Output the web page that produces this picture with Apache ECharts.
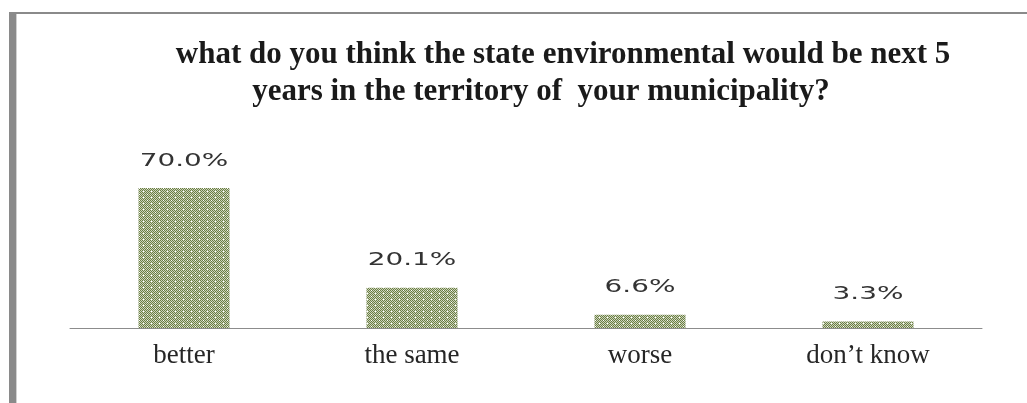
<!DOCTYPE html>
<html>
<head>
<meta charset="utf-8">
<script src="https://cdn.jsdelivr.net/npm/echarts@6/dist/echarts.min.js"></script>
<style>
  html, body { margin: 0; padding: 0; background: #fff; }
  #chart { width: 1027px; height: 403px; }
</style>
</head>
<body>
<div id="chart"></div>
<script>
// Survey answers and their shares (percent)
const titleLines = [
  'what do you think the state environmental would be next 5',
  'years in the territory of  your municipality?'
];
const categories = ['better', 'the same', 'worse', 'don\u2019t know'];
const shares = [70.0, 20.1, 6.6, 3.3];

// Woven olive fill used on the bars
function makeWeave() {
  const c = document.createElement('canvas');
  c.width = 8; c.height = 6;
  const g = c.getContext('2d');
  for (let y = 0; y < 6; y++) {
    for (let x = 0; x < 8; x++) {
      g.fillStyle = (x + y) % 2 === 0 ? '#6a7d44' : '#cdd5bc';
      g.fillRect(x, y, 1, 1);
    }
  }
  g.fillStyle = '#ffffff';
  g.fillRect(3, 2, 1, 1);
  g.fillRect(7, 5, 1, 1);
  return c;
}

const titleFont = {
  fontFamily: 'Liberation Serif',
  fontWeight: 'bold',
  fontSize: 31,
  color: '#1a1a1a'
};

const chart = echarts.init(document.getElementById('chart'), null, { renderer: 'canvas' });

chart.setOption({
  animation: false,
  backgroundColor: '#ffffff',
  title: [
    { text: titleLines[0], left: 558, top: 34, textAlign: 'center', textStyle: titleFont },
    { text: titleLines[1], left: 536, top: 71, textAlign: 'center', textStyle: titleFont }
  ],
  graphic: [
    // frame: thick left edge and thin top edge
    { type: 'rect', shape: { x: 9, y: 12, width: 7, height: 391 }, style: { fill: '#8a8a8a' } },
    { type: 'rect', shape: { x: 16, y: 14, width: 1, height: 389 }, style: { fill: '#d0d0d0' } },
    { type: 'rect', shape: { x: 9, y: 12, width: 1018, height: 2 }, style: { fill: '#8a8a8a' } }
  ],
  grid: { left: 70, right: 45, top: 168, height: 160 },
  xAxis: {
    type: 'category',
    data: categories,
    axisLine: { show: true, lineStyle: { color: '#8c8c8c', width: 1 } },
    axisTick: { show: false },
    axisLabel: {
      margin: 14,
      fontFamily: 'Liberation Serif',
      fontSize: 27,
      color: '#262626'
    }
  },
  yAxis: {
    type: 'value',
    min: 0,
    max: 80,
    show: false,
    splitLine: { show: false }
  },
  series: [
    {
      type: 'bar',
      data: shares,
      barWidth: 91,
      itemStyle: { color: { image: makeWeave(), repeat: 'repeat' } }
    },
    {
      // value labels above each bar, drawn wide
      type: 'custom',
      data: shares.map((v, i) => [i, v]),
      renderItem: function (params, api) {
        const pt = api.coord([api.value(0), api.value(1)]);
        return {
          type: 'text',
          x: pt[0],
          y: pt[1] - 27,
          scaleX: 1.55,
          style: {
            text: api.value(1).toFixed(1) + '%',
            textAlign: 'center',
            textVerticalAlign: 'middle',
            fill: '#333333',
            font: '18px "DejaVu Sans"'
          }
        };
      }
    }
  ]
});
</script>
</body>
</html>
